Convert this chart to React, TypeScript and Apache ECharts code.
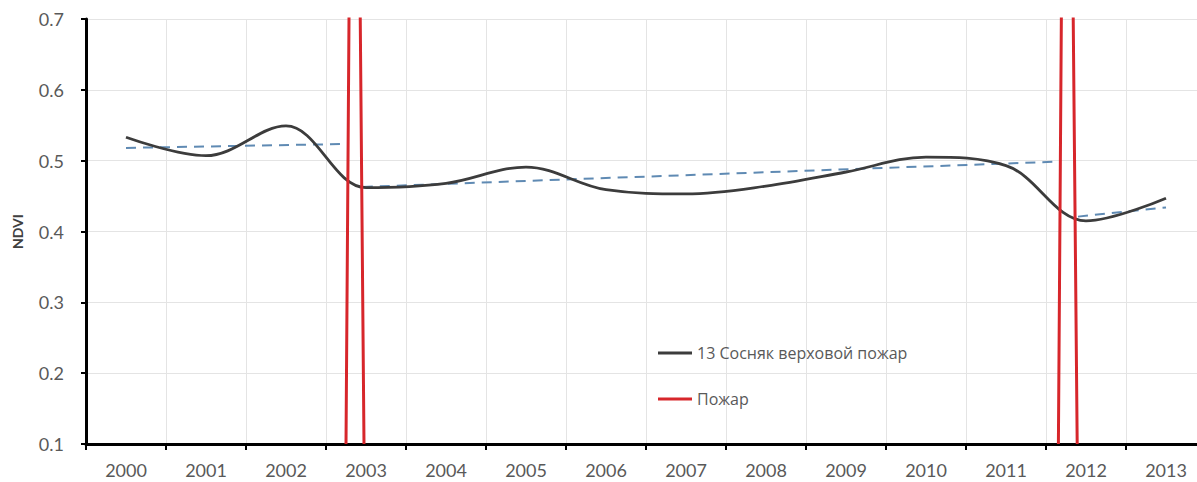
import React, { useEffect, useRef } from 'react';
import * as echarts from 'echarts';

// Yearly NDVI values of the pine stand (crown fire site 13)
const years = ['2000', '2001', '2002', '2003', '2004', '2005', '2006', '2007', '2008', '2009', '2010', '2011', '2012', '2013'];
const ndvi = [0.533, 0.507, 0.549, 0.462, 0.468, 0.491, 0.459, 0.453, 0.464, 0.484, 0.505, 0.493, 0.415, 0.447];

// Linear trends for the periods between fires: [year, NDVI]
const trendBefore2003 = [[2000, 0.518], [2002.71, 0.5235]];
const trend2003to2011 = [[2002.96, 0.463], [2011.61, 0.4985]];
const trendAfter2012 = [[2011.9, 0.421], [2013, 0.434]];

// Fire events, drawn as spikes that run past the top of the axis
const fire2003 = [[2002.75, 0.1], [2002.85, 1.7], [2002.975, 0.1]];
const fire2012 = [[2011.655, 0.1], [2011.755, 1.73], [2011.89, 0.1]];

const SERIES_NAME = '13 Сосняк верховой пожар';
const FIRE_NAME = 'Пожар';

export default function App() {
  const ref = useRef<HTMLDivElement>(null);

  useEffect(() => {
    const chart = echarts.init(ref.current!, null, { renderer: 'svg' });
    const font = 'Lato, "Open Sans", sans-serif';
    const labelColor = '#595959';
    const gridColor = '#e4e4e4';
    const trendStyle = { color: '#5f8ab3', width: 2, type: [10, 7] as number[] };

    chart.setOption({
      animation: false,
      backgroundColor: '#ffffff',
      textStyle: { fontFamily: font },
      grid: {
        left: 86,
        top: 19,
        width: 1120,
        height: 425,
        containLabel: false,
        outerBoundsMode: 'none',
      },
      legend: {
        data: [SERIES_NAME, FIRE_NAME],
        orient: 'vertical',
        left: 658,
        top: 345,
        padding: 0,
        icon: 'rect',
        itemWidth: 34,
        itemHeight: 3,
        itemGap: 30,
        selectedMode: false,
        textStyle: { color: labelColor, fontSize: 16, fontFamily: '"Open Sans", sans-serif', lineHeight: 16 },
      },
      xAxis: [
        {
          type: 'category',
          data: years,
          boundaryGap: true,
          axisLine: { show: true, lineStyle: { color: '#000', width: 3 } },
          axisTick: { show: true, length: 6, lineStyle: { color: '#000', width: 2 } },
          axisLabel: { color: labelColor, fontSize: 18, margin: 17, fontFamily: font },
          splitLine: { show: true, lineStyle: { color: gridColor, width: 1 } },
        },
        { type: 'value', min: 1999.5, max: 2013.5, show: false },
      ],
      yAxis: {
        type: 'value',
        min: 0.1,
        max: 0.7,
        interval: 0.1,
        name: 'NDVI',
        nameLocation: 'middle',
        nameGap: 62,
        nameTextStyle: { color: '#404040', fontSize: 14, fontWeight: 'bold', fontFamily: font },
        axisLine: { show: true, lineStyle: { color: '#000', width: 3 } },
        axisTick: { show: true, length: 5, lineStyle: { color: '#000', width: 2 } },
        axisLabel: {
          color: labelColor,
          fontSize: 18,
          margin: 22,
          fontFamily: font,
          formatter: (v: number) => v.toFixed(1),
        },
        splitLine: { show: true, lineStyle: { color: gridColor, width: 1 } },
      },
      series: [
        {
          name: 'trend-1',
          type: 'line',
          xAxisIndex: 1,
          data: trendBefore2003,
          showSymbol: false,
          lineStyle: trendStyle,
          z: 2,
        },
        {
          name: 'trend-2',
          type: 'line',
          xAxisIndex: 1,
          data: trend2003to2011,
          showSymbol: false,
          lineStyle: trendStyle,
          z: 2,
        },
        {
          name: 'trend-3',
          type: 'line',
          xAxisIndex: 1,
          data: trendAfter2012,
          showSymbol: false,
          lineStyle: trendStyle,
          z: 2,
        },
        {
          name: SERIES_NAME,
          type: 'line',
          xAxisIndex: 0,
          data: ndvi,
          smooth: 0.36,
          showSymbol: false,
          itemStyle: { color: '#3c3c3c' },
          lineStyle: { color: '#3c3c3c', width: 2.8 },
          z: 3,
        },
        {
          name: FIRE_NAME,
          type: 'line',
          xAxisIndex: 1,
          data: fire2003,
          clip: true,
          showSymbol: false,
          itemStyle: { color: '#d7262b' },
          lineStyle: { color: '#d7262b', width: 3 },
          z: 4,
        },
        {
          name: FIRE_NAME,
          type: 'line',
          xAxisIndex: 1,
          data: fire2012,
          clip: true,
          showSymbol: false,
          itemStyle: { color: '#d7262b' },
          lineStyle: { color: '#d7262b', width: 3 },
          z: 4,
        },
      ],
    });

    return () => chart.dispose();
  }, []);

  return (
    <div
      ref={ref}
      style={{ position: 'absolute', left: 0, top: 0, width: 1197, height: 482, background: '#fff' }}
    />
  );
}
